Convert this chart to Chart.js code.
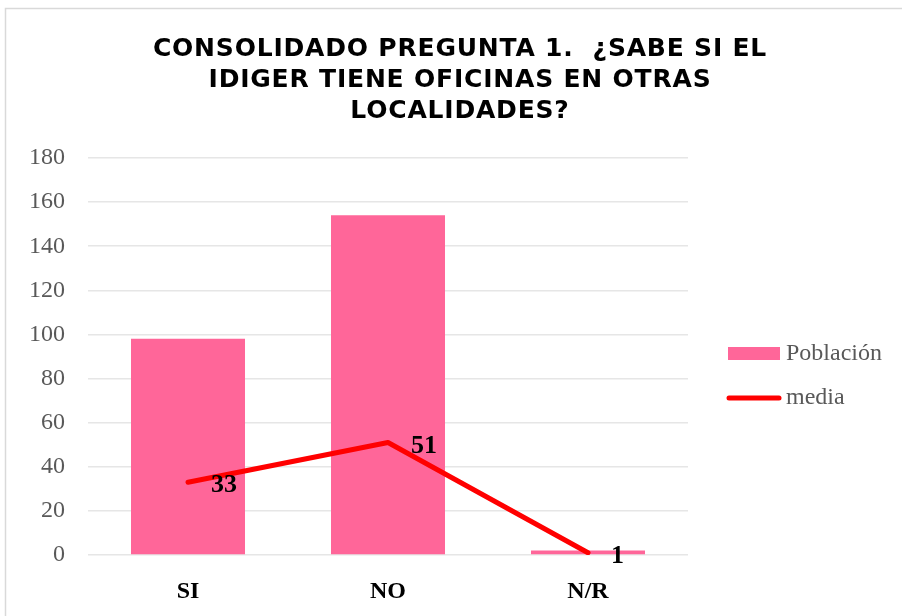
<!DOCTYPE html>
<html>
<head>
<meta charset="utf-8">
<script src="https://cdn.jsdelivr.net/npm/chart.js@4"></script>
<style>
html,body{margin:0;padding:0;background:#fff;}
#wrap{width:902px;height:616px;position:relative;}
</style>
</head>
<body>
<div id="wrap"><canvas id="c" width="902" height="616"></canvas></div>
<script>
const titleLines = ["CONSOLIDADO PREGUNTA 1.  ¿SABE SI EL", "IDIGER TIENE OFICINAS EN OTRAS", "LOCALIDADES?"];
const categories = ["SI", "NO", "N/R"];
const poblacion = [98, 154, 2];
const media = [33, 51, 1];
const mediaLabels = ["33", "51", "1"];
const seriesNames = ["Población", "media"];
const yTicks = [0, 20, 40, 60, 80, 100, 120, 140, 160, 180];

const PINK = '#FF6699';
const RED = '#FF0000';
const SERIF = '"Liberation Serif", "Times New Roman", serif';

const custom = {
  id: 'custom',
  beforeDraw(chart) {
    const ctx = chart.ctx;
    ctx.save();
    ctx.fillStyle = '#fff';
    ctx.fillRect(0, 0, chart.width, chart.height);
    ctx.strokeStyle = '#D9D9D9';
    ctx.lineWidth = 1.5;
    ctx.strokeRect(5.5, 8.5, 1000, 1000);
    ctx.restore();
  },
  afterDatasetsDraw(chart) {
    const ctx = chart.ctx;
    const meta = chart.getDatasetMeta(0);
    ctx.save();
    ctx.font = 'bold 26px ' + SERIF;
    ctx.fillStyle = '#000';
    ctx.textAlign = 'left';
    ctx.textBaseline = 'alphabetic';
    meta.data.forEach((pt, i) => {
      ctx.fillText(mediaLabels[i], pt.x + 23, pt.y + 10);
    });
    ctx.restore();
  },
  afterDraw(chart) {
    const ctx = chart.ctx;
    ctx.save();
    ctx.font = 'bold 25px "DejaVu Sans", Verdana, sans-serif';
    if ('letterSpacing' in ctx) ctx.letterSpacing = '0.8px';
    ctx.fillStyle = '#000';
    ctx.textAlign = 'center';
    ctx.textBaseline = 'alphabetic';
    titleLines.forEach((t, i) => ctx.fillText(t, 460, 56 + i * 31));
    if ('letterSpacing' in ctx) ctx.letterSpacing = '0px';
    // legend
    ctx.fillStyle = PINK;
    ctx.fillRect(728, 347, 52, 13);
    ctx.strokeStyle = RED;
    ctx.lineWidth = 5;
    ctx.lineCap = 'round';
    ctx.beginPath();
    ctx.moveTo(729, 398);
    ctx.lineTo(779, 398);
    ctx.stroke();
    ctx.font = '24px ' + SERIF;
    ctx.fillStyle = '#595959';
    ctx.textAlign = 'left';
    ctx.textBaseline = 'middle';
    ctx.fillText(seriesNames[0], 786, 354);
    ctx.fillText(seriesNames[1], 786, 398);
    ctx.restore();
  }
};

new Chart(document.getElementById('c'), {
  data: {
    labels: categories,
    datasets: [
      {
        type: 'line',
        label: seriesNames[1],
        data: media,
        borderColor: RED,
        backgroundColor: RED,
        borderWidth: 5,
        pointRadius: 0,
        borderCapStyle: 'round',
        borderJoinStyle: 'round',
        tension: 0,
        order: 0
      },
      {
        type: 'bar',
        label: seriesNames[0],
        data: poblacion,
        backgroundColor: PINK,
        borderWidth: 0,
        barPercentage: 0.57,
        categoryPercentage: 1,
        order: 1
      }
    ]
  },
  options: {
    responsive: false,
    animation: false,
    layout: { padding: { top: 158, right: 214, bottom: 0, left: 0 } },
    plugins: {
      legend: { display: false },
      title: { display: false },
      tooltip: { enabled: false }
    },
    scales: {
      x: {
        grid: { display: false, drawTicks: false },
        border: { display: false },
        ticks: { color: '#000', font: { family: SERIF, size: 24, weight: 'bold' }, padding: 22 },
        afterFit(s) { s.height = 61; }
      },
      y: {
        min: 0,
        max: 180,
        afterBuildTicks(s) { s.ticks = yTicks.map(v => ({ value: v })); },
        grid: { color: '#E6E6E6', lineWidth: 1.5, drawTicks: false },
        border: { display: false },
        ticks: { color: '#595959', font: { family: SERIF, size: 24 }, padding: 23 },
        afterFit(s) { s.width = 88; }
      }
    }
  },
  plugins: [custom]
});
</script>
</body>
</html>
